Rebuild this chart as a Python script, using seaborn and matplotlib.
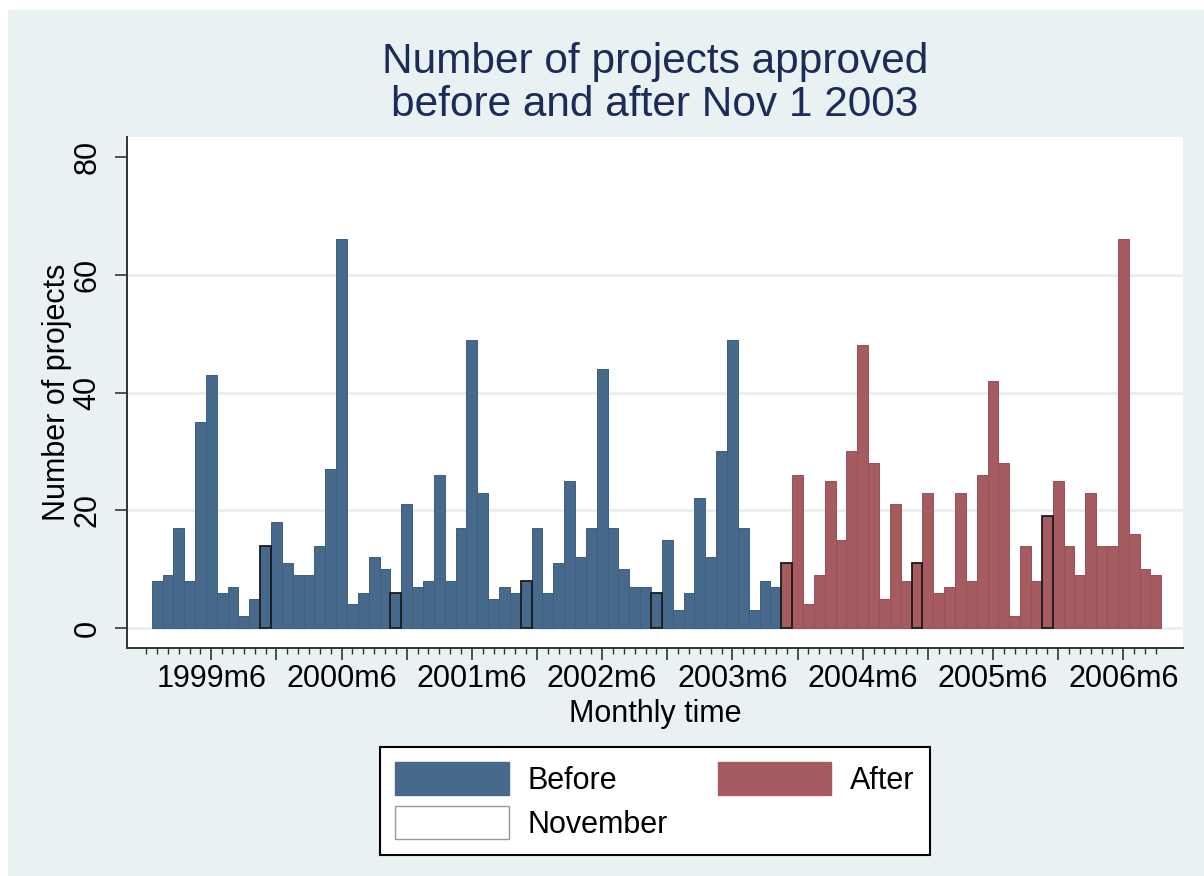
import numpy as np
import pandas as pd
import matplotlib
matplotlib.use("Agg")
import matplotlib.pyplot as plt
from matplotlib.patches import Rectangle, Patch
import seaborn as sns

# ---------------- data ----------------
months = pd.period_range("1999-01", "2006-09", freq="M")

before_counts = [
    8, 9, 17, 8, 35, 43, 6, 7, 2, 5, 14, 18,        # 1999
    11, 9, 9, 14, 27, 66, 4, 6, 12, 10, 6, 21,      # 2000
    7, 8, 26, 8, 17, 49, 23, 5, 7, 6, 8, 17,        # 2001
    6, 11, 25, 12, 17, 44, 17, 10, 7, 7, 6, 15,     # 2002
    3, 6, 22, 12, 30, 49, 17, 3, 8, 7,              # 2003 m1-m10
]
after_counts = [
    11, 26,                                          # 2003 m11-m12
    4, 9, 25, 15, 30, 48, 28, 5, 21, 8, 11, 23,     # 2004
    6, 7, 23, 8, 26, 42, 28, 2, 14, 8, 19, 25,      # 2005
    14, 9, 23, 14, 14, 66, 16, 10, 9,               # 2006 m1-m9
]
period_names = ["Before", "After"]
november_label = "November"
title_text = "Number of projects approved\nbefore and after Nov 1 2003"
x_title = "Monthly time"
y_title = "Number of projects"
y_ticks = [0, 20, 40, 60, 80]

# ---------------- styling ----------------
BG = "#E9F1F3"
GRID = "#E4EEF1"
BEFORE_C = "#476A8C"
AFTER_C = "#A65B60"
BEFORE_E = "#3D5E7E"
AFTER_E = "#97505A"
TITLE_C = "#1C2C58"
FS = 22

counts = before_counts + after_counts
df = pd.DataFrame({
    "t": np.arange(len(months)),
    "count": counts,
    "period": ["Before"] * len(before_counts) + ["After"] * len(after_counts),
    "month": months.month,
    "label": [f"{p.year}m{p.month}" for p in months],
})

sns.set_theme(style="white")
plt.rcParams["font.family"] = ["Liberation Sans", "DejaVu Sans"]

W, H = 1204, 876
fig = plt.figure(figsize=(W / 100, H / 100), dpi=100)
fig.patch.set_facecolor("white")
fig.patches.append(Rectangle((8 / W, 0), 1, (H - 10) / H, transform=fig.transFigure,
                             facecolor=BG, edgecolor="none", zorder=-10))

L, R, T, B = 127, 1183, 137, 648
ax = fig.add_axes([L / W, 1 - B / H, (R - L) / W, (B - T) / H])
ax.set_facecolor("white")

for y in y_ticks[:-1]:
    ax.axhline(y, color=GRID, lw=1.8, zorder=0)

for name, col, ec in [("Before", BEFORE_C, BEFORE_E), ("After", AFTER_C, AFTER_E)]:
    sub = df[df["period"] == name]
    sns.barplot(data=sub, x="t", y="count", native_scale=True, width=1,
                color=col, saturation=1, edgecolor=ec, linewidth=0.7,
                errorbar=None, ax=ax, zorder=2)

# outline November bars
nov_t = set(df.loc[df["month"] == 11, "t"].tolist())
for p in ax.patches:
    xc = p.get_x() + p.get_width() / 2
    if int(round(xc)) in nov_t:
        p.set_edgecolor("#1a1a1a")
        p.set_linewidth(1.3)
        p.set_zorder(3)

ax.set_xlim(-2.77, 94.5)
ax.set_ylim(-3.4, 83.4)

major = df.loc[df["month"].isin([6, 12]), "t"].tolist()
major_labels = [df.loc[t, "label"] if df.loc[t, "month"] == 6 else "" for t in major]
ax.set_xticks(major)
ax.set_xticklabels(major_labels)
ax.set_xticks(np.arange(-1, len(months)), minor=True)
ax.set_yticks(y_ticks)
ax.set_yticklabels([str(v) for v in y_ticks], rotation=90, va="center")

ax.tick_params(axis="x", which="major", length=8.6, width=1.2, color="#333333",
               labelsize=FS, pad=3, bottom=True, labelcolor="black")
ax.tick_params(axis="x", which="minor", length=4.0, width=1.0, color="#333333", bottom=True)
ax.tick_params(axis="y", which="major", length=8.6, width=1.2, color="#333333",
               labelsize=FS, pad=9, left=True, labelcolor="black")

for s in ["top", "right"]:
    ax.spines[s].set_visible(False)
for s in ["left", "bottom"]:
    ax.spines[s].set_color("#333333")
    ax.spines[s].set_linewidth(1.4)

ax.set_xlabel(x_title, fontsize=FS, color="black")
ax.set_ylabel(y_title, fontsize=FS, color="black")
ax.xaxis.set_label_coords(0.5, -(699 - B) / (B - T))
ax.yaxis.set_label_coords(-(127 - 72) / (R - L), 0.5)
ax.grid(False)

fig.text((L + R) / 2 / W, 1 - 83.5 / H, title_text, ha="center", va="center",
         fontsize=30.5, color=TITLE_C, linespacing=1.12)

handles = [Patch(facecolor=BEFORE_C, edgecolor=BEFORE_C),
           Patch(facecolor="white", edgecolor="#999999"),
           Patch(facecolor=AFTER_C, edgecolor=AFTER_C)]
labels = [period_names[0], november_label, period_names[1]]
leg = fig.legend(handles, labels, ncol=2, loc="upper left",
                 bbox_to_anchor=(380 / W, 1 - 747 / H), frameon=True, fancybox=False,
                 edgecolor="black", facecolor="white", framealpha=1, fontsize=22,
                 labelcolor="black",
                 handlelength=3.72, handleheight=1.25, handletextpad=0.62,
                 columnspacing=1.62, labelspacing=0.35, borderpad=0.5, borderaxespad=0)
leg.get_frame().set_linewidth(1.5)

fig.savefig("out.png", dpi=100, facecolor=fig.get_facecolor())
